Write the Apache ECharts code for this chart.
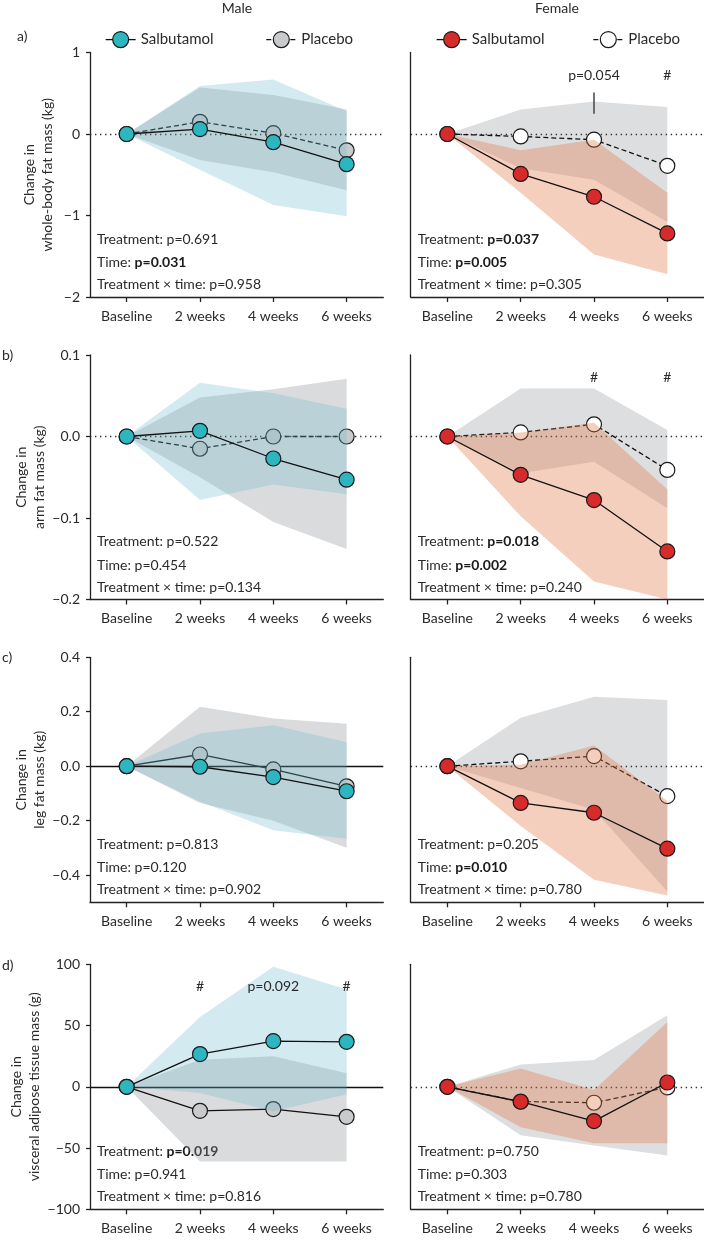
<!DOCTYPE html>
<html><head><meta charset="utf-8">
<script src="https://cdn.jsdelivr.net/npm/echarts@6/dist/echarts.min.js"></script>
<style>html,body{margin:0;padding:0;background:#fff}#c{width:704px;height:1240px}</style>
</head><body><div id="c"></div>
<script>
// ---------- DATA ----------
const categories = ['Baseline', '2 weeks', '4 weeks', '6 weeks'];

// a) whole-body fat mass (kg)
const a_M_salb = [0, 0.06, -0.10, -0.37];
const a_M_plac = [0, 0.15, 0.01, -0.20];
const a_M_salbLo = [0, -0.44, -0.87, -1.01];
const a_M_salbHi = [0, 0.59, 0.67, 0.28];
const a_M_placLo = [0, -0.32, -0.47, -0.69];
const a_M_placHi = [0, 0.57, 0.48, 0.30];
const a_F_salb = [0, -0.49, -0.77, -1.22];
const a_F_plac = [0, -0.03, -0.07, -0.39];
const a_F_salbLo = [0, -0.72, -1.48, -1.72];
const a_F_salbHi = [0, -0.20, -0.07, -0.72];
const a_F_placLo = [0, -0.42, -0.56, -1.08];
const a_F_placHi = [0, 0.30, 0.40, 0.33];
const a_ticks = [-2, -1, 0, 1];
const a_tickLabels = ['\u22122', '\u22121', '0', '1'];

// b) arm fat mass (kg)
const b_M_salb = [0, 0.007, -0.027, -0.053];
const b_M_plac = [0, -0.015, 0.0, 0.0];
const b_M_salbLo = [0, -0.078, -0.059, -0.071];
const b_M_salbHi = [0, 0.066, 0.053, 0.034];
const b_M_placLo = [0, -0.05, -0.105, -0.138];
const b_M_placHi = [0, 0.048, 0.058, 0.071];
const b_F_salb = [0, -0.047, -0.078, -0.141];
const b_F_plac = [0, 0.005, 0.015, -0.041];
const b_F_salbLo = [0, -0.098, -0.178, -0.2];
const b_F_salbHi = [0, 0.005, 0.017, -0.065];
const b_F_placLo = [0, -0.045, -0.031, -0.088];
const b_F_placHi = [0, 0.059, 0.059, 0.008];
const b_ticks = [-0.2, -0.1, 0, 0.1];
const b_tickLabels = ['\u22120.2', '\u22120.1', '0.0', '0.1'];

// c) leg fat mass (kg)
const c_M_salb = [0, -0.002, -0.040, -0.092];
const c_M_plac = [0, 0.043, -0.012, -0.074];
const c_M_salbLo = [0, -0.13, -0.235, -0.267];
const c_M_salbHi = [0, 0.12, 0.15, 0.088];
const c_M_placLo = [0, -0.135, -0.2, -0.30];
const c_M_placHi = [0, 0.218, 0.175, 0.156];
const c_F_salb = [0, -0.135, -0.171, -0.303];
const c_F_plac = [0, 0.018, 0.037, -0.110];
const c_F_salbLo = [0, -0.22, -0.417, -0.475];
const c_F_salbHi = [0, 0.005, 0.076, -0.128];
const c_F_placLo = [0, -0.08, -0.16, -0.46];
const c_F_placHi = [0, 0.178, 0.255, 0.243];
const c_ticks = [-0.4, -0.2, 0, 0.2, 0.4];
const c_tickLabels = ['\u22120.4', '\u22120.2', '0.0', '0.2', '0.4'];

// d) visceral adipose tissue mass (g)
const d_M_salb = [0, 26.7, 37.3, 36.7];
const d_M_plac = [0, -19.6, -18.2, -24.5];
const d_M_salbLo = [0, -5, -20, -6];
const d_M_salbHi = [0, 57, 98, 79.5];
const d_M_placLo = [0, -61, -61, -61];
const d_M_placHi = [0, 22, 25, 11];
const d_F_salb = [0, -12.2, -28, 3.5];
const d_F_plac = [0, -12, -13, -0.5];
const d_F_salbLo = [0, -33, -46, -46];
const d_F_salbHi = [0, 15, -2.7, 53];
const d_F_placLo = [0, -39.5, -48, -56];
const d_F_placHi = [0, 18.3, 21.8, 58.5];
const d_ticks = [-100, -50, 0, 50, 100];
const d_tickLabels = ['\u2212100', '\u221250', '0', '50', '100'];

// statistics text: [label, p value, bold]
const a_M_stats = [['Treatment: ', 'p=0.691', false], ['Time: ', 'p=0.031', true], ['Treatment \u00d7 time: ', 'p=0.958', false]];
const a_F_stats = [['Treatment: ', 'p=0.037', true], ['Time: ', 'p=0.005', true], ['Treatment \u00d7 time: ', 'p=0.305', false]];
const b_M_stats = [['Treatment: ', 'p=0.522', false], ['Time: ', 'p=0.454', false], ['Treatment \u00d7 time: ', 'p=0.134', false]];
const b_F_stats = [['Treatment: ', 'p=0.018', true], ['Time: ', 'p=0.002', true], ['Treatment \u00d7 time: ', 'p=0.240', false]];
const c_M_stats = [['Treatment: ', 'p=0.813', false], ['Time: ', 'p=0.120', false], ['Treatment \u00d7 time: ', 'p=0.902', false]];
const c_F_stats = [['Treatment: ', 'p=0.205', false], ['Time: ', 'p=0.010', true], ['Treatment \u00d7 time: ', 'p=0.780', false]];
const d_M_stats = [['Treatment: ', 'p=0.019', true], ['Time: ', 'p=0.941', false], ['Treatment \u00d7 time: ', 'p=0.816', false]];
const d_F_stats = [['Treatment: ', 'p=0.750', false], ['Time: ', 'p=0.303', false], ['Treatment \u00d7 time: ', 'p=0.780', false]];

// per-timepoint annotations: [category, y value, text]
const a_F_notes = [['4 weeks', 0.72, 'p=0.054'], ['6 weeks', 0.72, '#']];
const a_F_noteLine = [['4 weeks', 0.51], ['4 weeks', 0.25]];
const b_F_notes = [['4 weeks', 0.0725, '#'], ['6 weeks', 0.0725, '#']];
const d_M_notes = [['2 weeks', 82, '#'], ['4 weeks', 82, 'p=0.092'], ['6 weeks', 82, '#']];

// ---------- STYLE ----------
const FONT = 'Lato';
const TXT = '#2a2a2a';
const AX = '#222';
const MK_BORDER = '#1a1a1a';
const col = {
  M: { salb: '#2db5c0', plac: '#c9cacb', salbBand: 'rgba(108,185,205,0.30)', placBand: 'rgba(150,153,156,0.35)' },
  F: { salb: '#d72a2a', plac: '#ffffff', salbBand: 'rgba(226,118,69,0.35)', placBand: 'rgba(150,153,156,0.32)' }
};
const colLeft = [90, 410.7];
const gridW = 293.3;

const panels = [
  { key: 'a', top: 52.5, height: 244.5, min: -2, max: 1, ticks: a_ticks, labels: a_tickLabels,
    name: 'Change in\nwhole-body fat mass (kg)', solidZero: { M: false, F: false }, dashedPlac: { M: true, F: true },
    M: { s: a_M_salb, p: a_M_plac, sLo: a_M_salbLo, sHi: a_M_salbHi, pLo: a_M_placLo, pHi: a_M_placHi, stats: a_M_stats },
    F: { s: a_F_salb, p: a_F_plac, sLo: a_F_salbLo, sHi: a_F_salbHi, pLo: a_F_placLo, pHi: a_F_placHi, stats: a_F_stats, notes: a_F_notes, noteLine: a_F_noteLine } },
  { key: 'b', top: 355, height: 244.5, min: -0.2, max: 0.1, ticks: b_ticks, labels: b_tickLabels,
    name: 'Change in\narm fat mass (kg)', solidZero: { M: false, F: false }, dashedPlac: { M: true, F: true },
    M: { s: b_M_salb, p: b_M_plac, sLo: b_M_salbLo, sHi: b_M_salbHi, pLo: b_M_placLo, pHi: b_M_placHi, stats: b_M_stats },
    F: { s: b_F_salb, p: b_F_plac, sLo: b_F_salbLo, sHi: b_F_salbHi, pLo: b_F_placLo, pHi: b_F_placHi, stats: b_F_stats, notes: b_F_notes } },
  { key: 'c', top: 657.3, height: 245, min: -0.5, max: 0.4, ticks: c_ticks, labels: c_tickLabels,
    name: 'Change in\nleg fat mass (kg)', solidZero: { M: true, F: false }, dashedPlac: { M: false, F: true },
    M: { s: c_M_salb, p: c_M_plac, sLo: c_M_salbLo, sHi: c_M_salbHi, pLo: c_M_placLo, pHi: c_M_placHi, stats: c_M_stats },
    F: { s: c_F_salb, p: c_F_plac, sLo: c_F_salbLo, sHi: c_F_salbHi, pLo: c_F_placLo, pHi: c_F_placHi, stats: c_F_stats } },
  { key: 'd', top: 964.3, height: 245, min: -100, max: 100, ticks: d_ticks, labels: d_tickLabels,
    name: 'Change in\nvisceral adipose tissue mass (g)', solidZero: { M: true, F: false }, dashedPlac: { M: false, F: true },
    M: { s: d_M_salb, p: d_M_plac, sLo: d_M_salbLo, sHi: d_M_salbHi, pLo: d_M_placLo, pHi: d_M_placHi, stats: d_M_stats, notes: d_M_notes },
    F: { s: d_F_salb, p: d_F_plac, sLo: d_F_salbLo, sHi: d_F_salbHi, pLo: d_F_placLo, pHi: d_F_placHi, stats: d_F_stats } }
];
const letterPos = { a: [17, 36], b: [2, 355], c: [2, 657], d: [2, 965] };

const grids = [], xAxes = [], yAxes = [], series = [], graphics = [];

function labelFor(p, v) {
  for (let i = 0; i < p.ticks.length; i++) if (Math.abs(p.ticks[i] - v) < 1e-9) return p.labels[i];
  return '';
}

panels.forEach((p, pi) => {
  ['M', 'F'].forEach((side, si) => {
    const gi = grids.length;
    const d = p[side];
    const c = col[side];
    grids.push({ left: colLeft[si], top: p.top, width: gridW, height: p.height, outerBoundsMode: 'none', containLabel: false });
    xAxes.push({
      type: 'category', gridIndex: gi, data: categories, boundaryGap: true,
      axisLine: { show: true, onZero: false, lineStyle: { color: AX, width: 1.3 } },
      axisTick: { show: true, alignWithLabel: true, length: 5, lineStyle: { color: AX, width: 1.3 } },
      axisLabel: { show: true, interval: 0, margin: 12, fontFamily: FONT, fontSize: 14, color: TXT },
      splitLine: { show: false }
    });
    yAxes.push({
      type: 'value', gridIndex: gi, min: p.min, max: p.max,
      name: si === 0 ? p.name : '', nameLocation: 'middle', nameGap: 34,
      nameTextStyle: { fontFamily: FONT, fontSize: 14, color: TXT, lineHeight: 18 },
      axisLine: { show: true, onZero: false, lineStyle: { color: AX, width: 1.3 } },
      axisTick: { show: si === 0, length: 4, customValues: p.ticks, lineStyle: { color: AX, width: 1.3 } },
      axisLabel: { show: si === 0, customValues: p.ticks, margin: 10, fontFamily: FONT, fontSize: 14, color: TXT,
        formatter: (v) => labelFor(p, v) },
      splitLine: { show: false }
    });
    const base = { type: 'line', xAxisIndex: gi, yAxisIndex: gi, animation: false, silent: true };
    // placebo band
    series.push(Object.assign({}, base, {
      name: side + '-pLo-' + gi, data: d.pLo, stack: 'p' + gi, stackStrategy: 'all', symbol: 'none',
      lineStyle: { width: 0, opacity: 0 }, z: 1,
      markLine: { silent: true, symbol: ['none', 'none'], label: { show: false }, z: 2, animation: false,
        lineStyle: { color: p.solidZero[side] ? '#111' : '#333', width: p.solidZero[side] ? 1.3 : 1.4,
          type: p.solidZero[side] ? 'solid' : [1.4, 3.6] },
        data: [{ yAxis: 0 }] }
    }));
    series.push(Object.assign({}, base, {
      name: side + '-pBand-' + gi, data: d.pHi.map((v, i) => v - d.pLo[i]), stack: 'p' + gi, stackStrategy: 'all',
      symbol: 'none', lineStyle: { width: 0, opacity: 0 }, areaStyle: { color: c.placBand, opacity: 1 }, z: 1
    }));
    // placebo line
    series.push(Object.assign({}, base, {
      name: side + '-Placebo', data: d.p, symbol: 'circle', symbolSize: 15, z: 3,
      lineStyle: { color: '#111', width: 1.3, type: p.dashedPlac[side] ? [5, 3] : 'solid' },
      itemStyle: { color: c.plac, borderColor: MK_BORDER, borderWidth: 1.2 }
    }));
    // salbutamol band
    series.push(Object.assign({}, base, {
      name: side + '-sLo-' + gi, data: d.sLo, stack: 's' + gi, stackStrategy: 'all', symbol: 'none',
      lineStyle: { width: 0, opacity: 0 }, z: 4
    }));
    series.push(Object.assign({}, base, {
      name: side + '-sBand-' + gi, data: d.sHi.map((v, i) => v - d.sLo[i]), stack: 's' + gi, stackStrategy: 'all',
      symbol: 'none', lineStyle: { width: 0, opacity: 0 }, areaStyle: { color: c.salbBand, opacity: 1 }, z: 4
    }));
    // salbutamol line
    const sl = Object.assign({}, base, {
      name: side + '-Salbutamol', data: d.s, symbol: 'circle', symbolSize: 15, z: 5,
      lineStyle: { color: '#111', width: 1.3, type: 'solid' },
      itemStyle: { color: c.salb, borderColor: MK_BORDER, borderWidth: 1.2 }
    });
    if (d.notes) {
      sl.markPoint = { silent: true, animation: false, symbol: 'rect', symbolSize: 1, itemStyle: { color: 'rgba(0,0,0,0)' },
        label: { show: true, position: 'inside', formatter: '{b}', fontFamily: FONT, fontSize: 14, color: TXT },
        data: d.notes.map(n => ({ name: n[2], coord: [n[0], n[1]] })) };
    }
    if (d.noteLine) {
      sl.markLine = { silent: true, animation: false, symbol: ['none', 'none'], label: { show: false },
        lineStyle: { color: '#444', width: 1.5, type: 'solid' },
        data: [[{ coord: d.noteLine[0] }, { coord: d.noteLine[1] }]] };
    }
    series.push(sl);
    // stats text
    const bottom = p.top + p.height;
    const offs = [-58, -34.5, -12.5];
    d.stats.forEach((st, k) => {
      graphics.push({ type: 'text', x: colLeft[si] + 7, y: bottom + offs[k], silent: true,
        style: { text: '{n|' + st[0] + '}{' + (st[2] ? 'b' : 'n') + '|' + st[1] + '}',
          verticalAlign: 'middle', fontFamily: FONT, fontSize: 14, fill: TXT,
          rich: { n: { fontFamily: FONT, fontSize: 14, fill: TXT, color: TXT },
                  b: { fontFamily: FONT, fontSize: 14, fontWeight: 'bold', fill: '#1a1a1a', color: '#1a1a1a' } } } });
    });
  });
  graphics.push({ type: 'text', x: letterPos[p.key][0], y: letterPos[p.key][1], silent: true,
    style: { text: p.key + ')', verticalAlign: 'middle', fontFamily: FONT, fontSize: 14, fill: TXT } });
});

graphics.push({ type: 'text', x: 237, y: 8, silent: true,
  style: { text: 'Male', align: 'center', verticalAlign: 'middle', fontFamily: FONT, fontSize: 14, fill: TXT } });
graphics.push({ type: 'text', x: 557, y: 8, silent: true,
  style: { text: 'Female', align: 'center', verticalAlign: 'middle', fontFamily: FONT, fontSize: 14, fill: TXT } });

const legendCommon = {
  orient: 'horizontal', itemWidth: 30, itemHeight: 20, itemGap: 52, top: 26,
  formatter: (n) => n.slice(2), selectedMode: false,
  textStyle: { fontFamily: FONT, fontSize: 15, color: TXT },
  itemStyle: { borderColor: MK_BORDER, borderWidth: 1.2 },
  lineStyle: { width: 1.3, color: '#111' }
};
const option = {
  backgroundColor: '#fff',
  animation: false,
  grid: grids, xAxis: xAxes, yAxis: yAxes, series: series,
  legend: [
    Object.assign({}, legendCommon, { left: 100, data: ['M-Salbutamol', 'M-Placebo'] }),
    Object.assign({}, legendCommon, { left: 431, itemGap: 48, data: ['F-Salbutamol', 'F-Placebo'] })
  ],
  graphic: graphics
};
const chart = echarts.init(document.getElementById('c'), null, { renderer: 'canvas' });
chart.setOption(option);
</script></body></html>
